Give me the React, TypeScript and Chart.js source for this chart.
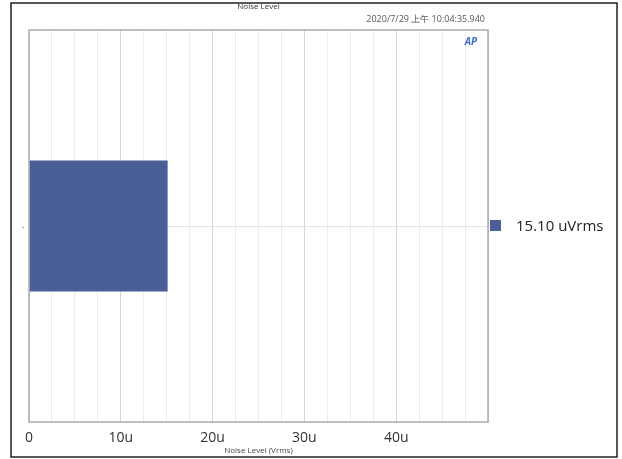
import React, { useEffect, useRef } from "react";
import { Chart, registerables } from "chart.js";

Chart.register(...registerables);

// ---- data ----
const categories = ["."];
const noiseValues = [15.1]; // in µVrms
const xTickValues = [0, 10, 20, 30, 40];
const xMin = 0;
const xMax = 50;
const xStep = 2.5;
const legendLabels = ["15.10 uVrms"];
const chartTitle = "Noise Level";
const timestamp = "2020/7/29 上午 10:04:35.940";
const xAxisTitle = "Noise Level (Vrms)";
const logoText = "AP";

const BAR_COLOR = "#4a5f98";
const FONT = "'Open Sans', 'Noto Sans', sans-serif";

const overlay = {
  id: "overlay",
  beforeDraw(chart: any) {
    const { ctx, width, height } = chart;
    ctx.save();
    ctx.fillStyle = "#ffffff";
    ctx.fillRect(0, 0, width, height);
    ctx.restore();
  },
  afterDraw(chart: any) {
    const { ctx, chartArea } = chart;
    const { left, right, top, bottom } = chartArea;
    ctx.save();
    // plot border
    ctx.strokeStyle = "#aaaaaa";
    ctx.lineWidth = 1.5;
    ctx.strokeRect(left, top, right - left, bottom - top);
    // outer frame
    ctx.strokeStyle = "#222222";
    ctx.lineWidth = 1.5;
    ctx.strokeRect(11, 3, 606, 454);
    // title
    ctx.fillStyle = "#333333";
    ctx.font = `8px ${FONT}`;
    ctx.textAlign = "center";
    ctx.textBaseline = "middle";
    ctx.fillText(chartTitle, (left + right) / 2, 7);
    // timestamp
    ctx.fillStyle = "#555555";
    ctx.font = `9px ${FONT}`;
    ctx.textAlign = "right";
    ctx.fillText(timestamp, right - 3, 19);
    // axis title
    ctx.fillStyle = "#444444";
    ctx.font = `8px ${FONT}`;
    ctx.textAlign = "center";
    ctx.fillText(xAxisTitle, (left + right) / 2, 451);
    // logo
    ctx.fillStyle = "#3a6cc8";
    ctx.font = `italic bold 10px ${FONT}`;
    ctx.textAlign = "center";
    ctx.fillText(logoText, right - 17, 42);
    // legend
    const yMid = (top + bottom) / 2;
    ctx.fillStyle = BAR_COLOR;
    ctx.fillRect(right + 2, yMid - 6, 11, 11);
    ctx.fillStyle = "#222222";
    ctx.font = `15px ${FONT}`;
    ctx.textAlign = "left";
    ctx.fillText(legendLabels[0], right + 28, yMid + 1);
    ctx.restore();
  },
};

export default function App() {
  const ref = useRef<HTMLCanvasElement | null>(null);
  useEffect(() => {
    if (!ref.current) return;
    const chart = new Chart(ref.current, {
      type: "bar",
      data: {
        labels: categories,
        datasets: [
          {
            data: noiseValues,
            backgroundColor: BAR_COLOR,
            borderWidth: 0,
            barPercentage: 1,
            categoryPercentage: 0.334,
          },
        ],
      },
      options: {
        indexAxis: "y",
        responsive: false,
        animation: false,
        devicePixelRatio: 1,
        layout: { padding: { left: 0, top: 30, right: 134, bottom: 0 } },
        plugins: {
          legend: { display: false },
          tooltip: { enabled: false },
          title: { display: false },
        },
        scales: {
          x: {
            type: "linear",
            min: xMin,
            max: xMax,
            afterFit(scale: any) {
              scale.height = 37;
            },
            afterBuildTicks(scale: any) {
              const t: any[] = [];
              for (let v = xMin; v <= xMax + 1e-9; v += xStep) t.push({ value: v });
              scale.ticks = t;
            },
            border: { display: false },
            grid: {
              drawTicks: false,
              color: (c: any) => {
                const v = c.tick ? c.tick.value : 0;
                return Math.abs(v % 10) < 1e-6 ? "#d6d6d6" : "#ececec";
              },
              lineWidth: 1,
            },
            ticks: {
              autoSkip: false,
              maxRotation: 0,
              padding: 8,
              color: "#333333",
              font: { family: FONT, size: 14 },
              callback: (v: any) => {
                const n = Number(v);
                if (xTickValues.indexOf(n) < 0) return "";
                return n === 0 ? "0" : `${n}u`;
              },
            },
          },
          y: {
            type: "category",
            afterFit(scale: any) {
              scale.width = 29;
            },
            border: { display: false },
            grid: { offset: false, drawTicks: false, color: "#e4e4e4" },
            ticks: {
              padding: 5,
              color: "#000000",
              font: { family: FONT, size: 8 },
            },
          },
        },
      },
      plugins: [overlay],
    } as any);
    return () => chart.destroy();
  }, []);
  return (
    <div style={{ position: "fixed", left: 0, top: 0, width: 622, height: 459 }}>
      <canvas ref={ref} width={622} height={459} />
    </div>
  );
}
